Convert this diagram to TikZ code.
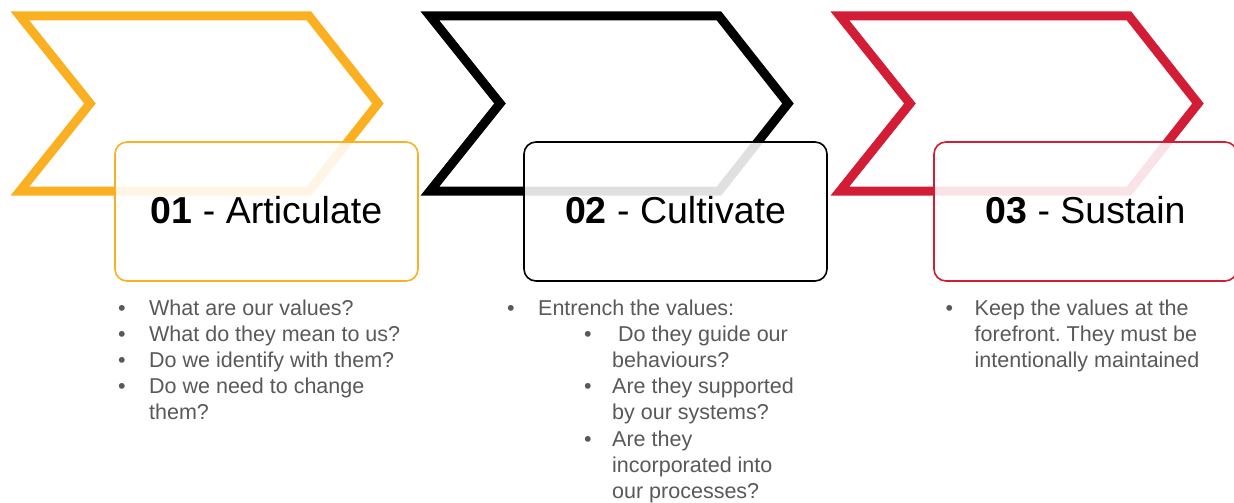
\documentclass[tikz,border=0pt]{standalone}
\usepackage{fontspec}
\setmainfont{Liberation Sans}
\definecolor{cyellow}{HTML}{FBB021}
\definecolor{cred}{HTML}{D31C35}
\definecolor{cblack}{HTML}{000000}
\definecolor{bulletgray}{HTML}{595959}
\newcommand{\bitem}[1]{\par\hangindent=31pt\hangafter=1\noindent\makebox[31pt][l]{•}#1}
\newcommand{\bitemc}[1]{\par\hangindent=29pt\hangafter=1\noindent\makebox[29pt][l]{•}#1}
\newcommand{\bsub}[1]{\par\hangindent=105pt\hangafter=1\noindent\hspace*{77pt}\makebox[28pt][l]{•}#1}
\tikzset{
  chev/.style={line width=9pt, line join=miter, draw=#1},
  titlebox/.style={draw=#1, line width=1.6pt, rounded corners=12pt, fill=white, fill opacity=0.88, draw opacity=1, text opacity=1,
    minimum width=303pt, minimum height=139pt, inner sep=0pt, text depth=3.5pt, font=\fontsize{37.5}{42}\selectfont, text=black},
  bullist/.style={anchor=base west, inner sep=0pt, text=bulletgray, font=\fontsize{21.5}{26.1}\selectfont}
}
\begin{document}
\frenchspacing
\begin{tikzpicture}[x=1pt,y=-1pt]
\useasboundingbox (0,0) rectangle (1234,503);
\fill[white] (0,0) rectangle (1234,503);
% chevrons
\foreach \dx/\c in {0/cyellow,410/cblack,820/cred}{
  \draw[chev=\c] (20+\dx,16) -- (309+\dx,16) -- (378+\dx,103.5) -- (309+\dx,191) -- (20+\dx,191) -- (90+\dx,103.5) -- cycle;
}
% boxes
\node[titlebox=cyellow] (b1) at (266.5,211.5) {\textbf{01} - Articulate};
\node[titlebox=cblack] (b2) at (675.5,211.5) {\textbf{02} - Cultivate};
\node[titlebox=cred] (b3) at (1085.5,211.5) {\textbf{03} - Sustain};
% lists
\node[bullist] (l1) at (118,315.5) {\parbox[t]{300pt}{\frenchspacing
\bitem{What are our values?}
\bitem{What do they mean to us?}
\bitem{Do we identify with them?}
\bitem{Do we need to change\newline them?}}};
\node[bullist] (l2) at (507,315.5) {\parbox[t]{320pt}{\frenchspacing
\bitem{Entrench the values:}
\bsub{\ Do they guide our\newline behaviours?}
\bsub{Are they supported\newline by our systems?}
\bsub{Are they\newline incorporated into\newline our processes?}}};
\node[bullist] (l3) at (945.5,315.5) {\parbox[t]{290pt}{\frenchspacing
\bitemc{Keep the values at the\newline forefront. They must be\newline intentionally maintained}}};
\end{tikzpicture}
\end{document}
